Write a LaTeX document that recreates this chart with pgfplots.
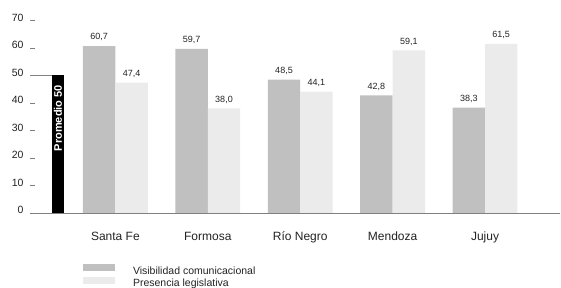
\documentclass[border=0pt]{standalone}
\usepackage{pgfplots}
\pgfplotsset{compat=1.18}
\usepackage{fontspec}
\setmainfont{Liberation Sans}
\definecolor{darkbar}{RGB}{192,192,192}
\definecolor{lightbar}{RGB}{235,235,235}
\definecolor{axisgray}{RGB}{128,128,128}
\definecolor{txt}{RGB}{35,35,35}
\begin{document}
\begin{tikzpicture}[x=1pt,y=1pt]
\useasboundingbox (0,0) rectangle (561,288);
\begin{axis}[
  at={(30pt,75pt)}, anchor=south west,
  scale only axis, width=530pt, height=192.5pt,
  xmin=0.0758, xmax=5.8117, ymin=0, ymax=70,
  axis x line*=bottom, axis y line*=left,
  x axis line style={draw=axisgray, line width=0.8pt, -},
  y axis line style={draw=none},
  ytick={0,10,...,70},
  ytick style={draw=axisgray, line width=0.5pt},
  tick align=inside, major tick length=5pt,
  xtick={1,2,3,4,5},
  xticklabels={Santa Fe, Formosa, Río Negro, Mendoza, Jujuy},
  xtick style={draw=none},
  xticklabel style={font=\fontsize{12}{14}\selectfont, text=txt, yshift=-15.5pt},
  yticklabel style={font=\fontsize{10.5}{12}\selectfont, text=txt, xshift=-3pt, yshift=3pt},
  /pgf/number format/assume math mode=true,
  clip=false,
  legend cell align=left,
  legend image code/.code={\fill[#1] (0pt,0.4pt) rectangle (32pt,7.6pt);},
  legend style={at={(axis description cs:0.1006,-0.265)}, anchor=north west,
    draw=none, fill=none, inner sep=0pt, outer sep=0pt,
    font=\fontsize{10.5}{11}\selectfont, text=txt,
    row sep=0pt, column sep=17.7pt,
    nodes={inner sep=0pt, text height=7.6pt, text depth=2.6pt}},
]
\addplot[axisgray, line width=0.6pt, forget plot] coordinates {(0.0758,50) (0.3095,50)};
\addplot[ybar, bar width=12.8pt, bar shift=0pt, fill=black, draw=none, forget plot] coordinates {(0.379,50)};
\addplot[ybar, bar width=32.4pt, bar shift=-16.2pt, fill=darkbar, draw=none,
  nodes near coords={\pgfmathprintnumber[fixed,fixed zerofill,precision=1,use comma]{\pgfplotspointmeta}},
  nodes near coords style={font=\fontsize{9}{10}\selectfont, text=txt, yshift=1.5pt, xshift=-16.2pt}]
  coordinates {(1,60.7) (2,59.7) (3,48.5) (4,42.8) (5,38.3)};
\addlegendentry{Visibilidad comunicacional}
\addplot[ybar, bar width=32.4pt, bar shift=16.2pt, fill=lightbar, draw=none,
  nodes near coords={\pgfmathprintnumber[fixed,fixed zerofill,precision=1,use comma]{\pgfplotspointmeta}},
  nodes near coords style={font=\fontsize{9}{10}\selectfont, text=txt, yshift=1.5pt, xshift=16.2pt}]
  coordinates {(1,47.4) (2,38.0) (3,44.1) (4,59.1) (5,61.5)};
\addlegendentry{Presencia legislativa}
\node[rotate=90, text=white, font=\bfseries\fontsize{11}{13}\selectfont] at (axis cs:0.379,34.5) {Promedio 50};
\end{axis}
\end{tikzpicture}
\end{document}
